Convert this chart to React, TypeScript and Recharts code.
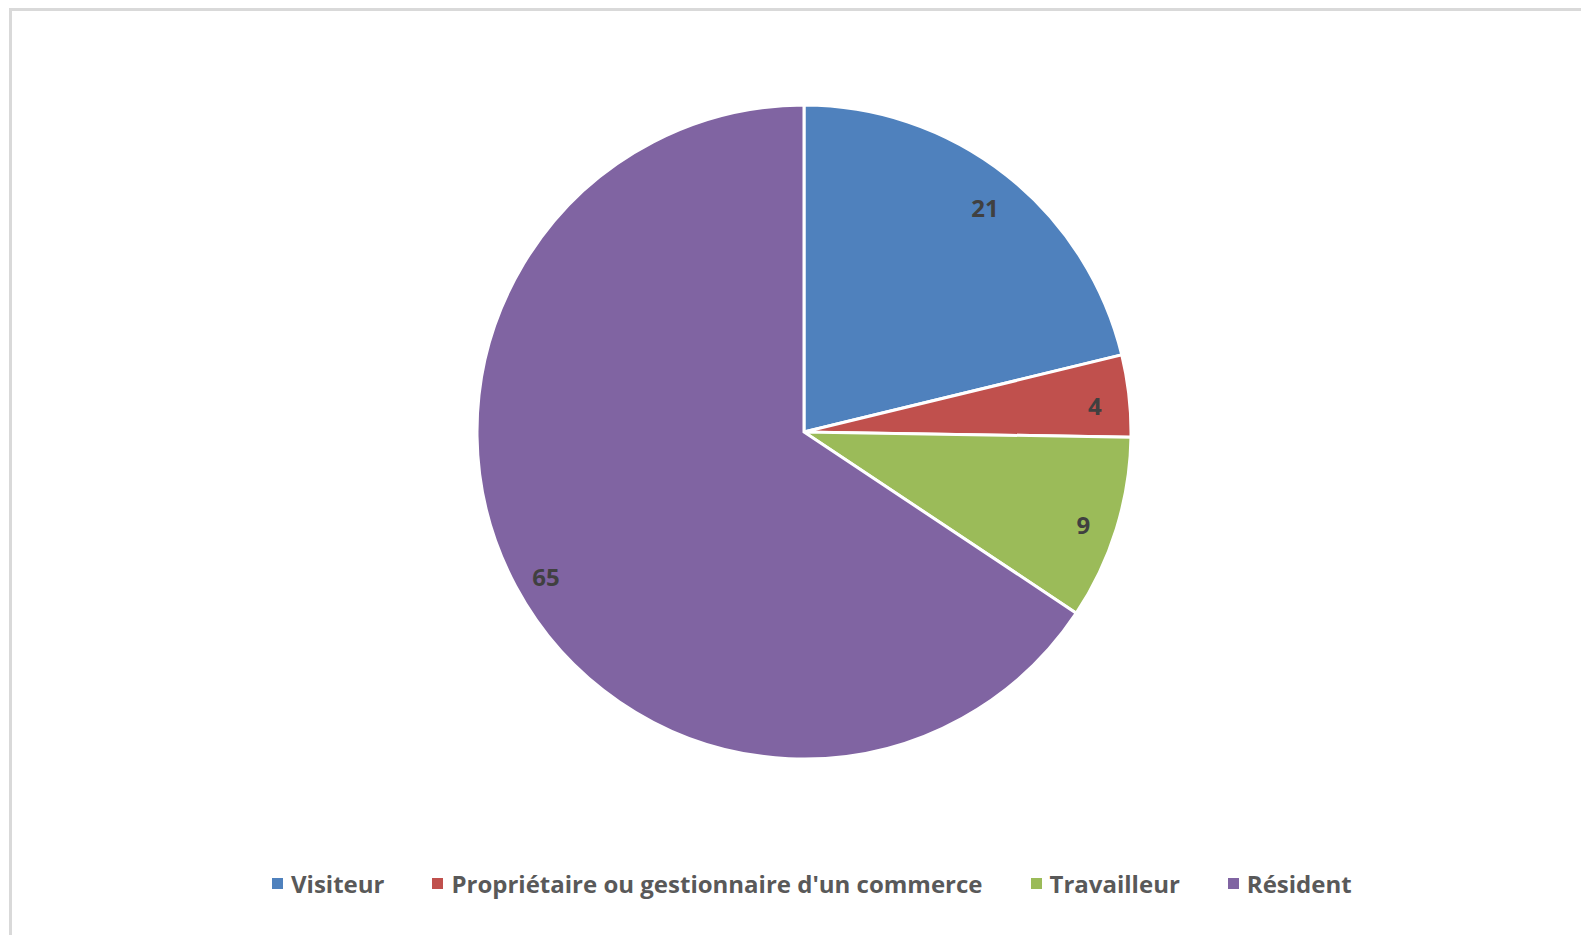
import React from "react";
import { PieChart, Pie, Cell, Legend } from "recharts";

const categories = [
  "Visiteur",
  "Propriétaire ou gestionnaire d'un commerce",
  "Travailleur",
  "Résident",
];
const values = [21, 4, 9, 65];
const colors = ["#4F81BD", "#C0504D", "#9BBB59", "#8064A2"];

const data = categories.map((name, i) => ({ name, value: values[i] }));

const FONT = "'Open Sans', Lato, sans-serif";
const RADIAN = Math.PI / 180;

const renderLabel = (props: any) => {
  const { cx, cy, midAngle, outerRadius, value } = props;
  const r = outerRadius * 0.895;
  const x = cx + r * Math.cos(-midAngle * RADIAN);
  const y = cy + r * Math.sin(-midAngle * RADIAN) + 6;
  return (
    <text
      x={x}
      y={y}
      fill="#404040"
      textAnchor="middle"
      dominantBaseline="central"
      style={{ fontFamily: FONT, fontWeight: 700, fontSize: 24 }}
    >
      {value}
    </text>
  );
};

const renderLegend = () => {
  return (
    <div
      style={{
        display: "flex",
        flexDirection: "row",
        alignItems: "center",
        paddingLeft: 272,
        fontFamily: FONT,
        fontWeight: 700,
        fontSize: 24,
        color: "#595959",
      }}
    >
      {categories.map((name, i) => (
        <div
          key={name}
          style={{
            display: "flex",
            alignItems: "center",
            marginRight: 48,
            whiteSpace: "nowrap",
          }}
        >
          <span
            style={{
              display: "inline-block",
              width: 11,
              height: 11,
              background: colors[i],
              marginRight: 8,
            }}
          />
          <span>{name}</span>
        </div>
      ))}
    </div>
  );
};

export default function App() {
  return (
    <div
      style={{
        position: "fixed",
        left: 0,
        top: 0,
        width: 1581,
        height: 935,
        background: "#ffffff",
        overflow: "hidden",
      }}
    >
      <div
        style={{
          position: "absolute",
          left: 9,
          top: 8,
          width: 1700,
          height: 1100,
          borderTop: "3px solid #d9d9d9",
          borderLeft: "3px solid #d9d9d9",
        }}
      />
      <div style={{ position: "absolute", left: 0, top: 0 }}>
        <PieChart
          width={1581}
          height={935}
          margin={{ top: 0, right: 0, bottom: 0, left: 0 }}
        >
          <Pie
            data={data}
            dataKey="value"
            nameKey="name"
            cx={804}
            cy={432}
            outerRadius={327}
            startAngle={90}
            endAngle={-270}
            stroke="#ffffff"
            strokeWidth={3}
            label={renderLabel}
            labelLine={false}
            isAnimationActive={false}
          >
            {data.map((d, i) => (
              <Cell key={d.name} fill={colors[i]} />
            ))}
          </Pie>
          <Legend
            content={renderLegend}
            wrapperStyle={{ left: 0, top: 867, width: 1581 }}
          />
        </PieChart>
      </div>
    </div>
  );
}
